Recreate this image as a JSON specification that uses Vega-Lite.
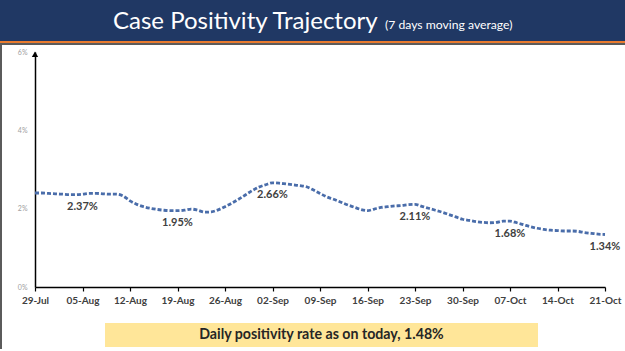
{
  "$schema": "https://vega.github.io/schema/vega-lite/v6.json",
  "padding": 0,
  "background": "white",
  "spacing": 0,
  "bounds": "flush",
  "config": {"view": {"stroke": null}, "concat": {"spacing": 0}, "font": "Lato"},
  "vconcat": [
    {
      "width": 625,
      "height": 41,
      "view": {"fill": "#203864", "stroke": null},
      "data": {"values": [{"title": "Case Positivity Trajectory", "subtitle": "(7 days moving average)"}]},
      "layer": [
        {
          "mark": {"type": "text", "align": "left", "baseline": "alphabetic", "dx": -199.5, "dy": 8.5, "font": "Lato", "fontSize": 24, "fill": "white"},
          "encoding": {"text": {"field": "title"}}
        },
        {
          "mark": {"type": "text", "align": "left", "baseline": "alphabetic", "dx": 72.5, "dy": 8, "font": "Lato", "fontSize": 12.2, "fill": "white"},
          "encoding": {"text": {"field": "subtitle"}}
        }
      ]
    },
    {
      "width": 625,
      "height": 2,
      "view": {"fill": "#E97B2E", "stroke": null},
      "data": {"values": [{}]},
      "mark": {"type": "text", "text": ""}
    },
    {
      "spacing": 0,
      "bounds": "flush",
      "hconcat": [
        {
          "width": 2,
          "height": 306,
          "view": {"fill": "#5B5B5B", "stroke": null},
          "data": {"values": [{}]},
          "mark": {"type": "text", "text": ""}
        },
        {
          "spacing": 0,
          "bounds": "flush",
          "vconcat": [
            {
              "width": 623,
              "height": 280,
              "data": {"values": [
                {"date": "2020-07-29T00:00:00", "rate": 2.40},
                {"date": "2020-07-30T00:00:00", "rate": 2.40},
                {"date": "2020-07-31T00:00:00", "rate": 2.39},
                {"date": "2020-08-01T00:00:00", "rate": 2.38},
                {"date": "2020-08-02T00:00:00", "rate": 2.37},
                {"date": "2020-08-03T00:00:00", "rate": 2.36},
                {"date": "2020-08-04T00:00:00", "rate": 2.36},
                {"date": "2020-08-05T00:00:00", "rate": 2.37, "label": "2.37%"},
                {"date": "2020-08-06T00:00:00", "rate": 2.39},
                {"date": "2020-08-07T00:00:00", "rate": 2.39},
                {"date": "2020-08-08T00:00:00", "rate": 2.38},
                {"date": "2020-08-09T00:00:00", "rate": 2.37},
                {"date": "2020-08-10T00:00:00", "rate": 2.37},
                {"date": "2020-08-11T00:00:00", "rate": 2.32},
                {"date": "2020-08-12T00:00:00", "rate": 2.20},
                {"date": "2020-08-13T00:00:00", "rate": 2.11},
                {"date": "2020-08-14T00:00:00", "rate": 2.05},
                {"date": "2020-08-15T00:00:00", "rate": 2.01},
                {"date": "2020-08-16T00:00:00", "rate": 1.98},
                {"date": "2020-08-17T00:00:00", "rate": 1.96},
                {"date": "2020-08-18T00:00:00", "rate": 1.95},
                {"date": "2020-08-19T00:00:00", "rate": 1.95, "label": "1.95%"},
                {"date": "2020-08-20T00:00:00", "rate": 1.96},
                {"date": "2020-08-21T00:00:00", "rate": 1.99},
                {"date": "2020-08-22T00:00:00", "rate": 1.96},
                {"date": "2020-08-23T00:00:00", "rate": 1.91},
                {"date": "2020-08-24T00:00:00", "rate": 1.92},
                {"date": "2020-08-25T00:00:00", "rate": 1.97},
                {"date": "2020-08-26T00:00:00", "rate": 2.05},
                {"date": "2020-08-27T00:00:00", "rate": 2.14},
                {"date": "2020-08-28T00:00:00", "rate": 2.24},
                {"date": "2020-08-29T00:00:00", "rate": 2.35},
                {"date": "2020-08-30T00:00:00", "rate": 2.46},
                {"date": "2020-08-31T00:00:00", "rate": 2.55},
                {"date": "2020-09-01T00:00:00", "rate": 2.61},
                {"date": "2020-09-02T00:00:00", "rate": 2.66, "label": "2.66%"},
                {"date": "2020-09-03T00:00:00", "rate": 2.65},
                {"date": "2020-09-04T00:00:00", "rate": 2.63},
                {"date": "2020-09-05T00:00:00", "rate": 2.61},
                {"date": "2020-09-06T00:00:00", "rate": 2.59},
                {"date": "2020-09-07T00:00:00", "rate": 2.56},
                {"date": "2020-09-08T00:00:00", "rate": 2.48},
                {"date": "2020-09-09T00:00:00", "rate": 2.39},
                {"date": "2020-09-10T00:00:00", "rate": 2.30},
                {"date": "2020-09-11T00:00:00", "rate": 2.24},
                {"date": "2020-09-12T00:00:00", "rate": 2.17},
                {"date": "2020-09-13T00:00:00", "rate": 2.10},
                {"date": "2020-09-14T00:00:00", "rate": 2.04},
                {"date": "2020-09-15T00:00:00", "rate": 1.98},
                {"date": "2020-09-16T00:00:00", "rate": 1.95},
                {"date": "2020-09-17T00:00:00", "rate": 1.99},
                {"date": "2020-09-18T00:00:00", "rate": 2.03},
                {"date": "2020-09-19T00:00:00", "rate": 2.05},
                {"date": "2020-09-20T00:00:00", "rate": 2.07},
                {"date": "2020-09-21T00:00:00", "rate": 2.08},
                {"date": "2020-09-22T00:00:00", "rate": 2.10},
                {"date": "2020-09-23T00:00:00", "rate": 2.11, "label": "2.11%"},
                {"date": "2020-09-24T00:00:00", "rate": 2.06},
                {"date": "2020-09-25T00:00:00", "rate": 2.01},
                {"date": "2020-09-26T00:00:00", "rate": 1.96},
                {"date": "2020-09-27T00:00:00", "rate": 1.91},
                {"date": "2020-09-28T00:00:00", "rate": 1.85},
                {"date": "2020-09-29T00:00:00", "rate": 1.79},
                {"date": "2020-09-30T00:00:00", "rate": 1.73},
                {"date": "2020-10-01T00:00:00", "rate": 1.70},
                {"date": "2020-10-02T00:00:00", "rate": 1.67},
                {"date": "2020-10-03T00:00:00", "rate": 1.65},
                {"date": "2020-10-04T00:00:00", "rate": 1.64},
                {"date": "2020-10-05T00:00:00", "rate": 1.65},
                {"date": "2020-10-06T00:00:00", "rate": 1.68},
                {"date": "2020-10-07T00:00:00", "rate": 1.68, "label": "1.68%"},
                {"date": "2020-10-08T00:00:00", "rate": 1.64},
                {"date": "2020-10-09T00:00:00", "rate": 1.59},
                {"date": "2020-10-10T00:00:00", "rate": 1.54},
                {"date": "2020-10-11T00:00:00", "rate": 1.50},
                {"date": "2020-10-12T00:00:00", "rate": 1.47},
                {"date": "2020-10-13T00:00:00", "rate": 1.45},
                {"date": "2020-10-14T00:00:00", "rate": 1.44},
                {"date": "2020-10-15T00:00:00", "rate": 1.43},
                {"date": "2020-10-16T00:00:00", "rate": 1.43},
                {"date": "2020-10-17T00:00:00", "rate": 1.42},
                {"date": "2020-10-18T00:00:00", "rate": 1.39},
                {"date": "2020-10-19T00:00:00", "rate": 1.37},
                {"date": "2020-10-20T00:00:00", "rate": 1.35},
                {"date": "2020-10-21T00:00:00", "rate": 1.34, "label": "1.34%"}
              ]},
              "layer": [
                {
                  "mark": {"type": "line", "interpolate": "monotone", "strokeDash": [4, 2], "strokeWidth": 2.8, "color": "#4A6DAA"},
                  "encoding": {
                    "x": {
                      "field": "date",
                      "type": "temporal",
                      "scale": {
                        "domain": [{"year": 2020, "month": 7, "date": 29}, {"year": 2020, "month": 10, "date": 21}],
                        "range": [33, 603]
                      },
                      "axis": {
                        "values": [
                          {"year": 2020, "month": 7, "date": 29},
                          {"year": 2020, "month": 8, "date": 5},
                          {"year": 2020, "month": 8, "date": 12},
                          {"year": 2020, "month": 8, "date": 19},
                          {"year": 2020, "month": 8, "date": 26},
                          {"year": 2020, "month": 9, "date": 2},
                          {"year": 2020, "month": 9, "date": 9},
                          {"year": 2020, "month": 9, "date": 16},
                          {"year": 2020, "month": 9, "date": 23},
                          {"year": 2020, "month": 9, "date": 30},
                          {"year": 2020, "month": 10, "date": 7},
                          {"year": 2020, "month": 10, "date": 14},
                          {"year": 2020, "month": 10, "date": 21}
                        ],
                        "format": "%d-%b",
                        "title": null,
                        "offset": -36,
                        "grid": false,
                        "domainColor": "black",
                        "domainWidth": 1.5,
                        "tickColor": "black",
                        "tickSize": 4,
                        "tickWidth": 1.2,
                        "labelFont": "Lato",
                        "labelFontSize": 10,
                        "labelFontWeight": "bold",
                        "labelColor": "#404040",
                        "labelPadding": 4,
                        "labelFlush": false,
                        "labelOverlap": false
                      }
                    },
                    "y": {
                      "field": "rate",
                      "type": "quantitative",
                      "scale": {"domain": [0, 6], "range": [244, 9]},
                      "axis": {
                        "values": [0, 2, 4, 6],
                        "labelExpr": "datum.value + '%'",
                        "title": null,
                        "offset": -33,
                        "grid": false,
                        "ticks": false,
                        "domainColor": "black",
                        "domainWidth": 1.5,
                        "labelFont": "Lato",
                        "labelFontSize": 7,
                        "labelColor": "#A0A0A0",
                        "labelPadding": 8
                      }
                    }
                  }
                },
                {
                  "transform": [{"filter": "datum.label != null"}],
                  "mark": {"type": "text", "dy": 12.5, "font": "Lato", "fontSize": 11, "fontWeight": "bold", "fill": "#404040"},
                  "encoding": {
                    "x": {"field": "date", "type": "temporal"},
                    "y": {"field": "rate", "type": "quantitative"},
                    "text": {"field": "label"}
                  }
                },
                {
                  "data": {"values": [{"date": "2020-07-29T00:00:00", "rate": 5.94}]},
                  "mark": {"type": "point", "shape": "triangle-up", "filled": true, "size": 40, "color": "black", "opacity": 1},
                  "encoding": {
                    "x": {"field": "date", "type": "temporal"},
                    "y": {"field": "rate", "type": "quantitative"}
                  }
                }
              ]
            },
            {
              "spacing": 0,
              "bounds": "flush",
              "hconcat": [
                {
                  "width": 103,
                  "height": 24,
                  "data": {"values": [{}]},
                  "mark": {"type": "text", "text": ""}
                },
                {
                  "width": 433,
                  "height": 24,
                  "view": {"fill": "#FFE699", "stroke": null},
                  "data": {"values": [{"t": "Daily positivity rate as on today, 1.48%"}]},
                  "mark": {"type": "text", "font": "Lato", "fontSize": 14.2, "fontWeight": "bold", "fill": "#262626", "baseline": "middle"},
                  "encoding": {"text": {"field": "t"}}
                }
              ]
            }
          ]
        }
      ]
    },
    {
      "width": 625,
      "height": 2,
      "view": {"fill": "#5B5B5B", "stroke": null},
      "data": {"values": [{}]},
      "mark": {"type": "text", "text": ""}
    }
  ]
}
